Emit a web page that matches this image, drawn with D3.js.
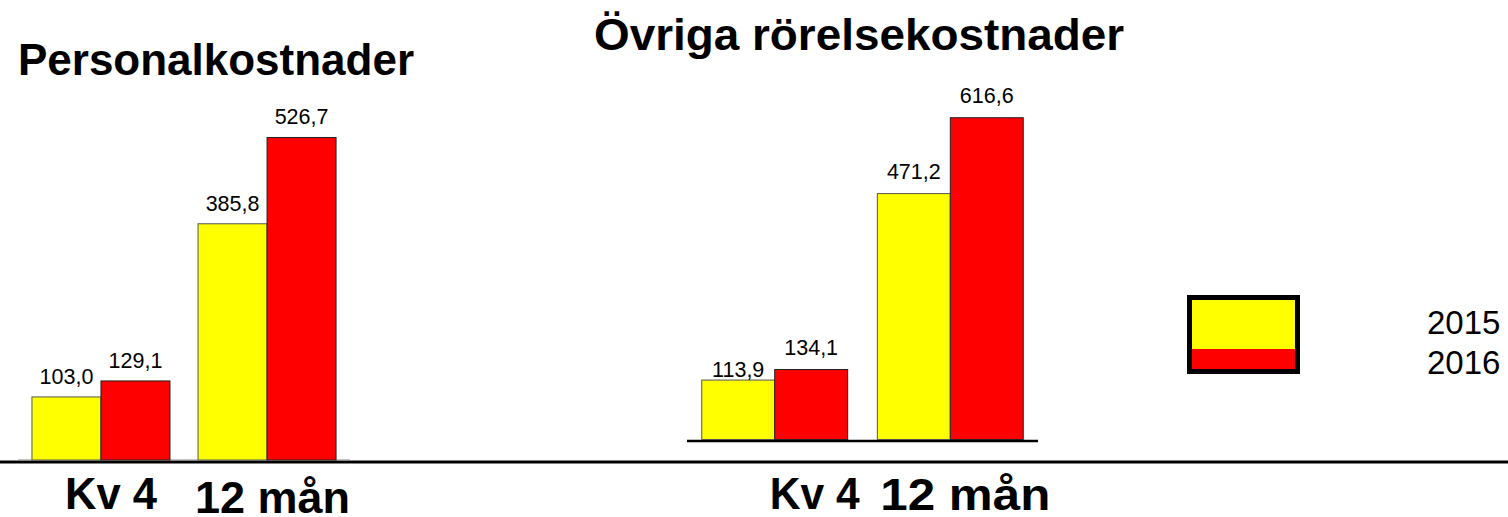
<!DOCTYPE html>
<html>
<head>
<meta charset="utf-8">
<script src="https://cdn.jsdelivr.net/npm/d3@7"></script>
<style>
  html, body { margin: 0; padding: 0; background: #fff; }
  svg { display: block; font-family: Arial, "Liberation Sans", sans-serif; }
</style>
</head>
<body>
<svg id="chart" width="1508" height="517"></svg>
<script>
// ---- data ----
const categories = ["Kv 4", "12 mån"];
const seriesNames = ["2015", "2016"];
const seriesColors = ["#FFFF00", "#FF0000"];
const titles = ["Personalkostnader", "Övriga rörelsekostnader"];
const personal2015 = [103.0, 385.8];
const personal2016 = [129.1, 526.7];
const ovriga2015 = [113.9, 471.2];
const ovriga2016 = [134.1, 616.6];
const fmt = v => d3.format(".1f")(v).replace(".", ",");

const svg = d3.select("#chart");

// thick base line across the slide
svg.append("line")
  .attr("x1", 0).attr("x2", 1508).attr("y1", 462).attr("y2", 462)
  .attr("stroke", "#000").attr("stroke-width", 3);

const charts = [
  { title: titles[0], values: [personal2015, personal2016], x0: 18, x1: 350,
    base: 460, yMax: 600, top: 92.6, titleX: 18, titleY: 75, titleLen: 396,
    axis: { color: "#888", width: 1, y: 460 }, labelGap: 13,
    catX: [10, 5.5], catY: [509, 513], catLen: [92, 155] },
  { title: titles[1], values: [ovriga2015, ovriga2016], x0: 687, x1: 1038,
    base: 439.5, yMax: 700, top: 74.2, titleX: 594, titleY: 50, titleLen: 530,
    axis: { color: "#000", width: 2.5, y: 441 }, labelGap: 15,
    catX: [40, 15], catY: [509, 510], catLen: [90, 170] }
];

charts.forEach((c, ci) => {
  const g = svg.append("g");
  const x = d3.scaleBand().domain(categories).range([c.x0, c.x1])
    .paddingInner(0.169).paddingOuter(0.084);
  const xs = d3.scaleBand().domain(seriesNames).range([0, x.bandwidth()]).padding(0);
  const y = d3.scaleLinear().domain([0, c.yMax]).range([c.base, c.top]);

  // title
  g.append("text").attr("x", c.titleX).attr("y", c.titleY)
    .attr("font-size", 44).attr("font-weight", "bold").attr("fill", "#000")
    .attr("textLength", c.titleLen).attr("lengthAdjust", "spacingAndGlyphs")
    .text(c.title);

  // axis line
  g.append("line").attr("x1", c.x0).attr("x2", c.x1)
    .attr("y1", c.axis.y).attr("y2", c.axis.y)
    .attr("stroke", c.axis.color).attr("stroke-width", c.axis.width);

  const rows = [];
  categories.forEach((cat, i) => {
    seriesNames.forEach((s, si) => {
      rows.push({ cat, s, si, v: c.values[si][i] });
    });
  });

  g.selectAll("rect.bar").data(rows).join("rect")
    .attr("class", "bar")
    .attr("x", d => x(d.cat) + xs(d.s))
    .attr("y", d => y(d.v))
    .attr("width", xs.bandwidth())
    .attr("height", d => y(0) - y(d.v))
    .attr("fill", d => seriesColors[d.si])
    .attr("stroke", d => d.si === 0 ? "#555" : "#222")
    .attr("stroke-width", 1);

  g.selectAll("text.val").data(rows).join("text")
    .attr("class", "val")
    .attr("x", d => x(d.cat) + xs(d.s) + xs.bandwidth() / 2)
    .attr("y", d => y(d.v) - ((ci === 1 && d.cat === categories[0] && d.si === 0) ? 3.5 : c.labelGap))
    .attr("text-anchor", "middle")
    .attr("font-size", 21.5).attr("fill", "#000")
    .text(d => fmt(d.v));

  // category labels
  categories.forEach((cat, i) => {
    g.append("text")
      .attr("x", x(cat) + x.bandwidth() / 2 + c.catX[i])
      .attr("y", c.catY[i])
      .attr("text-anchor", "middle")
      .attr("font-size", 44).attr("font-weight", "bold").attr("fill", "#000")
      .attr("textLength", c.catLen[i]).attr("lengthAdjust", "spacingAndGlyphs")
      .text(cat);
  });
});

// legend
const leg = svg.append("g");
const lx = 1189.5, ly = 297.5, lw = 108, lh = 74, split = 51.5;
leg.selectAll("rect.sw").data(seriesNames).join("rect")
  .attr("class", "sw")
  .attr("x", lx).attr("y", (d, i) => i === 0 ? ly : ly + split)
  .attr("width", lw).attr("height", (d, i) => i === 0 ? split : lh - split)
  .attr("fill", (d, i) => seriesColors[i]);
leg.append("rect").attr("x", lx).attr("y", ly).attr("width", lw).attr("height", lh)
  .attr("fill", "none").attr("stroke", "#000").attr("stroke-width", 5);
leg.selectAll("text.lt").data(seriesNames).join("text")
  .attr("class", "lt")
  .attr("x", 1427).attr("y", (d, i) => 334 + i * 40)
  .attr("font-size", 33).attr("fill", "#000")
  .text(d => d);
</script>
</body>
</html>
